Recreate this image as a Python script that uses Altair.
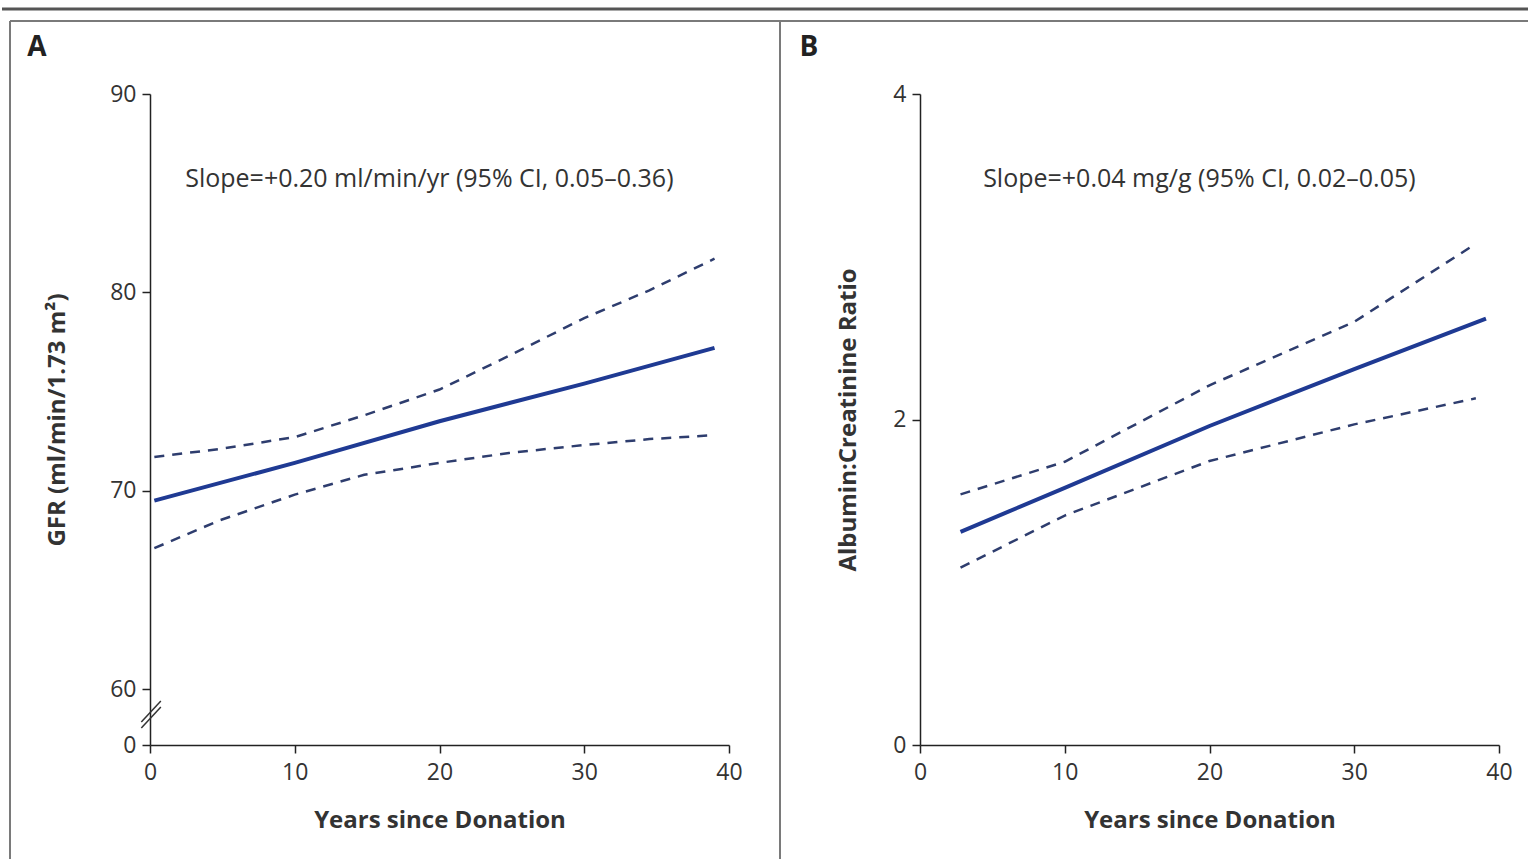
import altair as alt
import pandas as pd

# ---------------- data ----------------
x_ticks = [0, 10, 20, 30, 40]

# Panel A: GFR
a_years = [0.3, 10, 20, 30, 39]
a_gfr = [69.5, 71.4, 73.5, 75.4, 77.2]
a_ci_years = [0.3, 4.8, 10, 14.8, 20, 24.8, 30, 34.5, 39]
a_upper = [71.7, 72.1, 72.7, 73.8, 75.1, 76.8, 78.7, 80.1, 81.7]
a_lower = [67.1, 68.5, 69.8, 70.8, 71.4, 71.9, 72.3, 72.6, 72.8]
a_y_ticks = [0, 60, 70, 80, 90]
a_note = "Slope=+0.20 ml/min/yr (95% CI, 0.05\u20130.36)"

# Panel B: Albumin:Creatinine ratio
b_years = [2.8, 10, 20, 30, 39.1]
b_acr = [1.31, 1.58, 1.96, 2.31, 2.62]
b_ci_years = [2.8, 10, 20, 30, 38.4]
b_upper = [1.54, 1.74, 2.21, 2.60, 3.08]
b_lower = [1.09, 1.41, 1.745, 1.97, 2.13]
b_y_ticks = [0, 2, 4]
b_note = "Slope=+0.04 mg/g (95% CI, 0.02\u20130.05)"

# axis-break slashes on panel A (data space)
brk_x = [-0.6, -0.6]
brk_x2 = [0.75, 0.75]
brk_y = [18.2, 24.6]
brk_y2 = [40.7, 47.1]

W, H = 579, 651
FONT = "Open Sans"
MID = "#1f3a93"
CI = "#2e3d6e"
FRAME = "#7a7a7a"

one = pd.DataFrame({"k": [0]})


def ci_frame(xs, up, lo):
    return pd.DataFrame({
        "year": xs + xs,
        "value": up + lo,
        "bound": ["upper"] * len(xs) + ["lower"] * len(xs),
    })


x_scale = alt.Scale(domain=[0, 40], nice=False, zero=False)
x_axis = alt.Axis(values=x_ticks, title="Years since Donation", labelPadding=8,
                  titlePadding=24, format="d", labelFlush=False)

# ---------- panel A ----------
a_scale = alt.Scale(domain=[0, 60, 90], range=[H, H - 56, 0], nice=False, zero=False)
a_axis = alt.Axis(values=a_y_ticks, title="GFR (ml/min/1.73 m\u00b2)", labelPadding=6,
                  titlePadding=40, format="d")

a_mid_df = pd.DataFrame({"year": a_years, "value": a_gfr})
a_ci_df = ci_frame(a_ci_years, a_upper, a_lower)

a_ci = alt.Chart(a_ci_df).mark_line(color=CI, strokeWidth=2.5, strokeDash=[10, 8]).encode(
    x=alt.X("year:Q", scale=x_scale, axis=x_axis),
    y=alt.Y("value:Q", scale=a_scale, axis=a_axis),
    detail="bound:N",
)
a_mid = alt.Chart(a_mid_df).mark_line(color=MID, strokeWidth=4).encode(
    x=alt.X("year:Q", scale=x_scale, axis=x_axis),
    y=alt.Y("value:Q", scale=a_scale, axis=a_axis),
)
a_text = alt.Chart(pd.DataFrame({"year": [19.3], "value": [85.7], "t": [a_note]})).mark_text(
    font=FONT, fontSize=25, color="#333", align="center", baseline="middle"
).encode(x=alt.X("year:Q", scale=x_scale), y=alt.Y("value:Q", scale=a_scale), text="t:N")
a_brk = alt.Chart(pd.DataFrame({"x": brk_x, "x2": brk_x2, "y": brk_y, "y2": brk_y2})).mark_rule(
    color="#333", strokeWidth=1.5
).encode(x=alt.X("x:Q", scale=x_scale), x2="x2:Q", y=alt.Y("y:Q", scale=a_scale), y2="y2:Q")

top_rule = alt.Chart(one).mark_rule(color="#555", strokeWidth=3).encode(
    x=alt.value(-148), x2=alt.value(1378), y=alt.value(-85))
a_left = alt.Chart(one).mark_rule(color=FRAME, strokeWidth=2).encode(
    x=alt.value(-140), y=alt.value(-73), y2=alt.value(765))
a_top = alt.Chart(one).mark_rule(color=FRAME, strokeWidth=2).encode(
    x=alt.value(-140), x2=alt.value(630), y=alt.value(-73))
a_right = alt.Chart(one).mark_rule(color=FRAME, strokeWidth=2).encode(
    x=alt.value(630), y=alt.value(-73), y2=alt.value(765))
a_letter = alt.Chart(one).mark_text(font=FONT, fontSize=28, fontWeight="bold", color="#222",
                                    align="center", baseline="middle").encode(
    x=alt.value(-113), y=alt.value(-46), text=alt.value("A"))

panel_a = alt.layer(top_rule, a_left, a_top, a_right, a_letter, a_ci, a_mid, a_text, a_brk).properties(
    width=W, height=H)

# ---------- panel B ----------
b_scale = alt.Scale(domain=[0, 4], nice=False, zero=False)
b_axis = alt.Axis(values=b_y_ticks, title="Albumin:Creatinine Ratio", labelPadding=6,
                  titlePadding=32, format="d")

b_mid_df = pd.DataFrame({"year": b_years, "value": b_acr})
b_ci_df = ci_frame(b_ci_years, b_upper, b_lower)

b_ci = alt.Chart(b_ci_df).mark_line(color=CI, strokeWidth=2.5, strokeDash=[10, 8]).encode(
    x=alt.X("year:Q", scale=x_scale, axis=x_axis),
    y=alt.Y("value:Q", scale=b_scale, axis=b_axis),
    detail="bound:N",
)
b_mid = alt.Chart(b_mid_df).mark_line(color=MID, strokeWidth=4).encode(
    x=alt.X("year:Q", scale=x_scale, axis=x_axis),
    y=alt.Y("value:Q", scale=b_scale, axis=b_axis),
)
b_text = alt.Chart(pd.DataFrame({"year": [19.3], "value": [3.48], "t": [b_note]})).mark_text(
    font=FONT, fontSize=25, color="#333", align="center", baseline="middle"
).encode(x=alt.X("year:Q", scale=x_scale), y=alt.Y("value:Q", scale=b_scale), text="t:N")

b_top = alt.Chart(one).mark_rule(color=FRAME, strokeWidth=2).encode(
    x=alt.value(-140), x2=alt.value(608), y=alt.value(-73))
b_letter = alt.Chart(one).mark_text(font=FONT, fontSize=28, fontWeight="bold", color="#222",
                                    align="center", baseline="middle").encode(
    x=alt.value(-111), y=alt.value(-46), text=alt.value("B"))

panel_b = alt.layer(b_top, b_letter, b_ci, b_mid, b_text).properties(width=W, height=H)

chart = alt.HConcatChart(hconcat=[panel_a, panel_b], spacing=191, bounds="flush").properties(
    padding={"left": 0, "top": 7, "right": 0, "bottom": 0}
).configure_view(stroke=None).configure_axis(
    grid=False,
    domainColor="#222", domainWidth=1.5,
    tickColor="#222", tickWidth=1.5, tickSize=8,
    labelFont=FONT, labelFontSize=23, labelColor="#333",
    titleFont=FONT, titleFontSize=24, titleFontWeight="bold", titleColor="#333",
)

chart.save("out.html", embed_options={"renderer": "svg", "actions": False})
